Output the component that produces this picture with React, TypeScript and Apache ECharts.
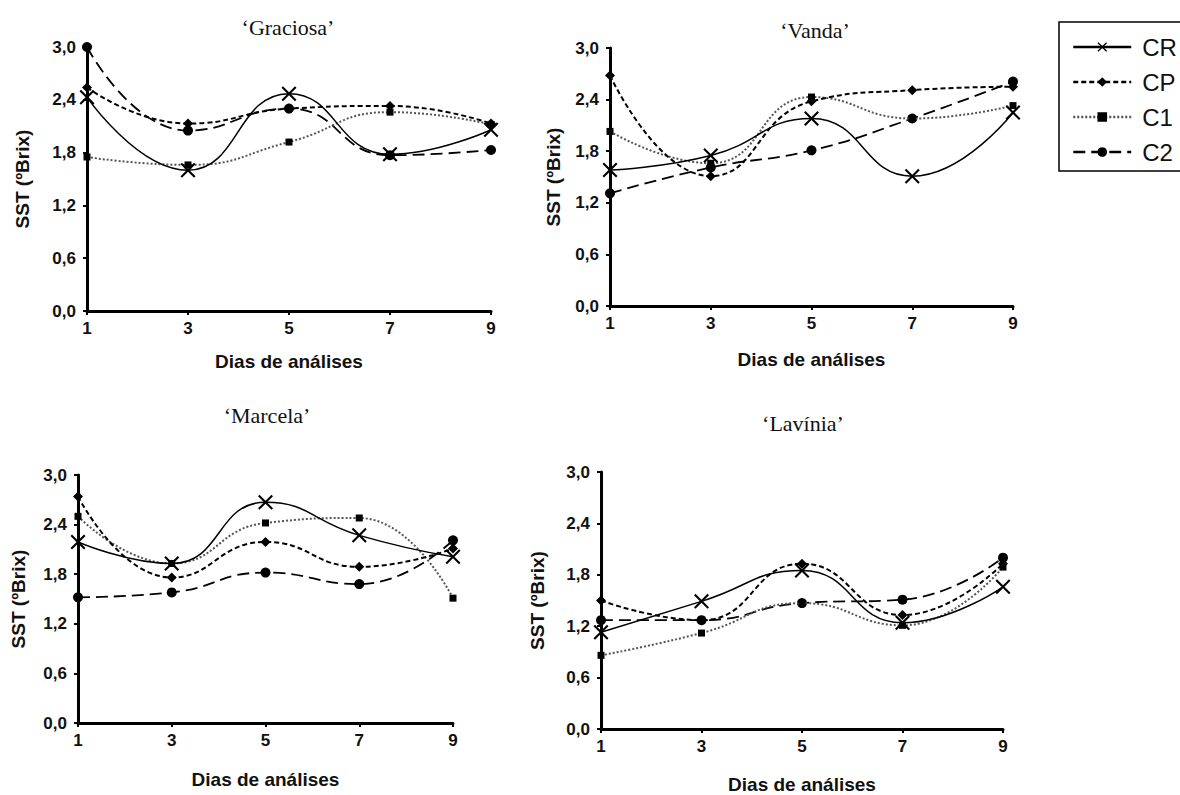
import React, { useEffect, useRef } from "react";
import * as echarts from "echarts";

// ---------- data ----------
const days = ["1", "3", "5", "7", "9"];
const yTicks = [0, 0.6, 1.2, 1.8, 2.4, 3.0];
const seriesNames = ["CR", "CP", "C1", "C2"];
const panelTitles = ["\u2018Graciosa\u2019", "\u2018Vanda\u2019", "\u2018Marcela\u2019", "\u2018Lav\u00ednia\u2019"];

const graciosaCR = [2.43, 1.6, 2.47, 1.78, 2.06];
const graciosaCP = [2.54, 2.13, 2.3, 2.33, 2.13];
const graciosaC1 = [1.75, 1.66, 1.92, 2.26, 2.12];
const graciosaC2 = [3.0, 2.05, 2.3, 1.77, 1.83];

const vandaCR = [1.58, 1.75, 2.18, 1.51, 2.25];
const vandaCP = [2.68, 1.51, 2.38, 2.51, 2.55];
const vandaC1 = [2.03, 1.66, 2.43, 2.18, 2.33];
const vandaC2 = [1.31, 1.61, 1.81, 2.18, 2.61];

const marcelaCR = [2.19, 1.93, 2.67, 2.27, 2.01];
const marcelaCP = [2.74, 1.76, 2.19, 1.89, 2.11];
const marcelaC1 = [2.5, 1.93, 2.42, 2.48, 1.51];
const marcelaC2 = [1.52, 1.58, 1.82, 1.68, 2.21];

const laviniaCR = [1.13, 1.49, 1.85, 1.24, 1.66];
const laviniaCP = [1.5, 1.27, 1.93, 1.33, 1.93];
const laviniaC1 = [0.86, 1.12, 1.47, 1.21, 1.89];
const laviniaC2 = [1.27, 1.27, 1.47, 1.51, 2.0];

const panelData = [
  [graciosaCR, graciosaCP, graciosaC1, graciosaC2],
  [vandaCR, vandaCP, vandaC1, vandaC2],
  [marcelaCR, marcelaCP, marcelaC1, marcelaC2],
  [laviniaCR, laviniaCP, laviniaC1, laviniaC2],
];

// ---------- layout / style ----------
const grids = [
  { left: 87, top: 47, width: 404, height: 264 },
  { left: 610, top: 48, width: 403, height: 258 },
  { left: 78, top: 475, width: 375, height: 248 },
  { left: 601, top: 472, width: 402, height: 257 },
];
const yNameGaps = [55, 47, 50, 54];
const xNameGaps = [41, 44, 47, 46];
const titlePos = [
  [288, 27],
  [815, 30],
  [267, 415],
  [803, 423],
];

const SANS = '"Liberation Sans", Arial, sans-serif';
const X_PATH =
  "path://M1,0 L5,4 L9,0 L10,1 L6,5 L10,9 L9,10 L5,6 L1,10 L0,9 L4,5 L0,1 Z";

const styles: any = {
  CR: { symbol: X_PATH, symbolSize: 15, line: { color: "#000", width: 1.5, type: "solid" } },
  CP: { symbol: "diamond", symbolSize: 10, line: { color: "#000", width: 2, type: [5, 3] } },
  C1: { symbol: "rect", symbolSize: 7, line: { color: "#555", width: 2, type: [2, 2] } },
  C2: { symbol: "circle", symbolSize: 10, line: { color: "#000", width: 1.8, type: [12, 6] } },
};

const fmt = (v: number) => v.toFixed(1).replace(".", ",");

export default function App() {
  const ref = useRef<HTMLDivElement>(null);

  useEffect(() => {
    document.body.style.margin = "0";
    if (!ref.current) return;
    const chart = echarts.init(ref.current, null, { renderer: "svg" });

    const xAxis: any[] = [];
    const yAxis: any[] = [];
    const series: any[] = [];

    grids.forEach((g, i) => {
      xAxis.push({
        type: "category",
        gridIndex: i,
        data: days,
        boundaryGap: false,
        name: "Dias de an\u00e1lises",
        nameLocation: "middle",
        nameGap: xNameGaps[i],
        nameTextStyle: { fontFamily: SANS, fontWeight: "bold", fontSize: 19, color: "#111" },
        axisLine: { show: true, lineStyle: { color: "#000", width: 3 } },
        axisTick: { show: true, alignWithLabel: true, length: 4, lineStyle: { color: "#000", width: 2 } },
        axisLabel: { fontFamily: SANS, fontWeight: "bold", fontSize: 17, color: "#111", margin: 9 },
        splitLine: { show: false },
      });
      yAxis.push({
        type: "value",
        gridIndex: i,
        min: yTicks[0],
        max: yTicks[yTicks.length - 1],
        interval: 0.6,
        name: "SST (\u00baBrix)",
        nameLocation: "middle",
        nameRotate: 90,
        nameGap: yNameGaps[i],
        nameTextStyle: { fontFamily: SANS, fontWeight: "bold", fontSize: 19, color: "#111" },
        axisLine: { show: true, lineStyle: { color: "#000", width: 3 } },
        axisTick: { show: true, length: 4, lineStyle: { color: "#000", width: 2 } },
        axisLabel: { fontFamily: SANS, fontWeight: "bold", fontSize: 17, color: "#111", margin: 11, formatter: fmt },
        splitLine: { show: false },
      });
      seriesNames.forEach((name, k) => {
        const st = styles[name];
        series.push({
          type: "line",
          name,
          xAxisIndex: i,
          yAxisIndex: i,
          data: panelData[i][k],
          smooth: 0.5,
          symbol: st.symbol,
          symbolSize: st.symbolSize,
          showAllSymbol: true,
          z: 10 - k,
          lineStyle: st.line,
          itemStyle: { color: "#000", borderColor: "#000", borderWidth: 0 },
          emphasis: { disabled: true },
        });
      });
    });

    const graphic: any[] = panelTitles.map((t, i) => ({
      type: "text",
      x: titlePos[i][0],
      y: titlePos[i][1],
      style: {
        text: t,
        font: '22px "Liberation Serif", "Times New Roman", serif',
        fill: "#111",
        textAlign: "center",
        textVerticalAlign: "middle",
      },
    }));

    chart.setOption({
      animation: false,
      backgroundColor: "#fff",
      grid: grids.map((g) => ({ ...g, containLabel: false })),
      xAxis,
      yAxis,
      series,
      graphic,
      legend: {
        data: seriesNames,
        orient: "vertical",
        left: 1059,
        top: 22,
        itemWidth: 58,
        itemHeight: 12,
        itemGap: 11,
        padding: [13, 60, 7, 13],
        borderColor: "#000",
        borderWidth: 1.5,
        selectedMode: false,
        lineStyle: { width: 2.5 },
        textStyle: { fontFamily: SANS, fontSize: 24, color: "#111", padding: [0, 0, 0, 6] },
      },
      tooltip: { show: false },
    });

    return () => chart.dispose();
  }, []);

  return <div ref={ref} style={{ position: "relative", width: 1180, height: 795, background: "#fff" }} />;
}
